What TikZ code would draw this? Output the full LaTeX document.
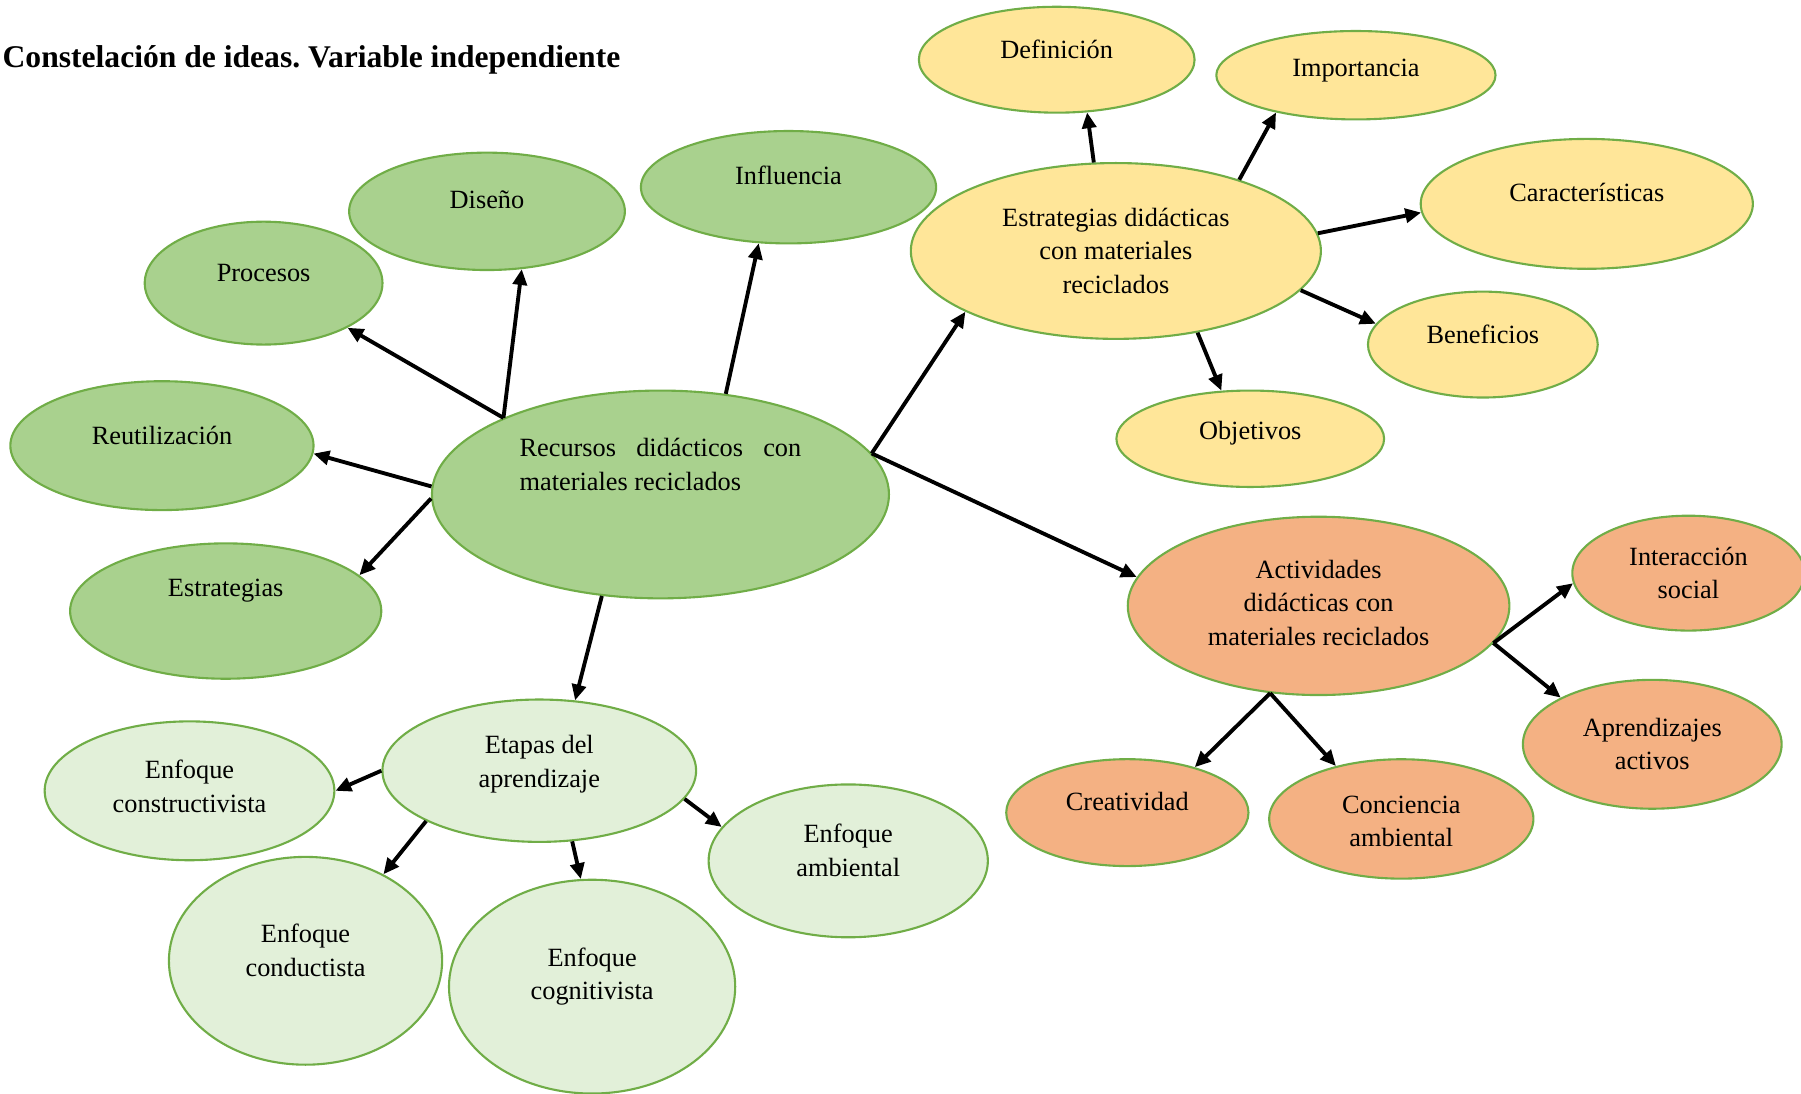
\documentclass[tikz,border=0pt]{standalone}
\usepackage{fontspec}
\setmainfont{Liberation Serif}
\frenchspacing
\usetikzlibrary{shapes.geometric, arrows.meta}
\definecolor{borde}{HTML}{70AD47}
\definecolor{verdeosc}{HTML}{A9D18E}
\definecolor{verdecla}{HTML}{E2F0D9}
\definecolor{amarillo}{HTML}{FFE699}
\definecolor{naranja}{HTML}{F4B183}

\begin{document}
\begin{tikzpicture}[x=0.023cm, y=-0.023cm,
    idea/.style={ellipse, draw=borde, line width=1.2pt, inner sep=0pt},
    tam/.style 2 args={minimum width=#1cm, minimum height=#2cm},
    lbl/.style={align=center, font=\fontsize{15}{18.9}\selectfont},
    flecha/.style={-{Triangle[length=9pt, width=8pt]}, line width=2.2pt}]

  \useasboundingbox (0, 0) rectangle (1568, 952);

  \node[anchor=west, inner sep=0pt, font=\bfseries\fontsize{18}{21}\selectfont] (titulo) at (2, 52) {Constelación de ideas. Variable independiente};

  \node[idea, fill=verdeosc, tam={9.15}{4.16}, label={[lbl, yshift=0.6cm]center:\makebox[5.64cm][s]{Recursos didácticos con}\\\makebox[5.64cm][l]{materiales reciclados}}] (rec) at (575, 430.5) {};
  \node[idea, fill=verdeosc, tam={4.76}{2.46}, label={[lbl, yshift=0.2cm]center:Procesos}] (proc) at (229.5, 246.5) {};
  \node[idea, fill=verdeosc, tam={5.52}{2.35}, label={[lbl, yshift=0.23cm]center:Diseño}] (dis) at (424, 184) {};
  \node[idea, fill=verdeosc, tam={5.91}{2.25}, label={[lbl, yshift=0.23cm]center:Influencia}] (infl) at (686.5, 163) {};
  \node[idea, fill=verdeosc, tam={6.07}{2.58}, label={[lbl, yshift=0.21cm]center:Reutilización}] (reut) at (141, 388) {};
  \node[idea, fill=verdeosc, tam={6.23}{2.71}, label={[lbl, yshift=0.41cm]center:Estrategias}] (estr) at (196.5, 532) {};

  \node[idea, fill=amarillo, tam={8.21}{3.52}, label={[lbl]center:Estrategias didácticas\\con materiales\\reciclados}] (estrdid) at (971.5, 218.5) {};
  \node[idea, fill=amarillo, tam={5.52}{2.12}, label={[lbl, yshift=0.21cm]center:Definición}] (def) at (920, 52) {};
  \node[idea, fill=amarillo, tam={5.59}{1.77}, label={[lbl, yshift=0.1cm]center:Importancia}] (imp) at (1180.5, 65.5) {};
  \node[idea, fill=amarillo, tam={6.65}{2.6}, label={[lbl, yshift=0.22cm]center:Características}] (car) at (1381.5, 177.5) {};
  \node[idea, fill=amarillo, tam={4.6}{2.12}, label={[lbl, yshift=0.21cm]center:Beneficios}] (ben) at (1291, 300) {};
  \node[idea, fill=amarillo, tam={5.36}{1.93}, label={[lbl, yshift=0.12cm]center:Objetivos}] (obj) at (1088.5, 382) {};

  \node[idea, fill=naranja, tam={7.64}{3.57}, label={[lbl, yshift=0.06cm]center:Actividades\\didácticas con\\materiales reciclados}] (act) at (1148, 527.5) {};
  \node[idea, fill=naranja, tam={4.65}{2.3}, label={[lbl]center:Interacción\\social}] (inter) at (1470, 499) {};
  \node[idea, fill=naranja, tam={5.18}{2.58}, label={[lbl]center:Aprendizajes\\activos}] (apr) at (1438.5, 648) {};
  \node[idea, fill=naranja, tam={4.85}{2.14}, label={[lbl, yshift=0.22cm]center:Creatividad}] (crea) at (981.5, 707.5) {};
  \node[idea, fill=naranja, tam={5.29}{2.39}, label={[lbl, yshift=-0.05cm]center:Conciencia\\ambiental}] (conc) at (1220, 713) {};

  \node[idea, fill=verdecla, tam={6.28}{2.85}, label={[lbl, yshift=0.13cm]center:Etapas del\\aprendizaje}] (etap) at (469.5, 671) {};
  \node[idea, fill=verdecla, tam={5.8}{2.78}, label={[lbl, yshift=0.09cm]center:Enfoque\\constructivista}] (constr) at (165, 688.5) {};
  \node[idea, fill=verdecla, tam={5.47}{4.16}, label={[lbl, yshift=0.21cm]center:Enfoque\\conductista}] (cond) at (266, 836.5) {};
  \node[idea, fill=verdecla, tam={5.73}{4.28}, label={[lbl, yshift=0.2cm]center:Enfoque\\cognitivista}] (cogn) at (515.5, 859) {};
  \node[idea, fill=verdecla, tam={5.59}{3.06}, label={[lbl, yshift=0.21cm]center:Enfoque\\ambiental}] (amb) at (738.5, 749.5) {};

  \draw[flecha] (rec.154) -- (proc.-28);
  \draw[flecha] (rec.154) -- (dis.-59);
  \draw[flecha] (rec.57) -- (infl.-118);
  \draw[flecha] (rec.178) -- (reut.-3);
  \draw[flecha] (rec.181) -- (estr.15);
  \draw[flecha] (rec.-120) -- (etap.63);
  \draw[flecha] (rec.11) -- (estrdid.-158);
  \draw[flecha] (rec.11) -- (act.171);
  \draw[flecha] (estrdid.104) -- (def.-60);
  \draw[flecha] (estrdid.30) -- (imp.-155);
  \draw[flecha] (estrdid.5) -- (car.-177);
  \draw[flecha] (estrdid.-12) -- (ben.169);
  \draw[flecha] (estrdid.-45) -- (obj.121);
  \draw[flecha] (act.-12) -- (inter.-175);
  \draw[flecha] (act.-12) -- (apr.153);
  \draw[flecha] (act.-119) -- (crea.34);
  \draw[flecha] (act.-119) -- (conc.141);
  \draw[flecha] (etap.180) -- (constr.0);
  \draw[flecha] (etap.-156) -- (cond.48);
  \draw[flecha] (etap.-65) -- (cogn.96);
  \draw[flecha] (etap.-11) -- (amb.165);
\end{tikzpicture}
\end{document}
